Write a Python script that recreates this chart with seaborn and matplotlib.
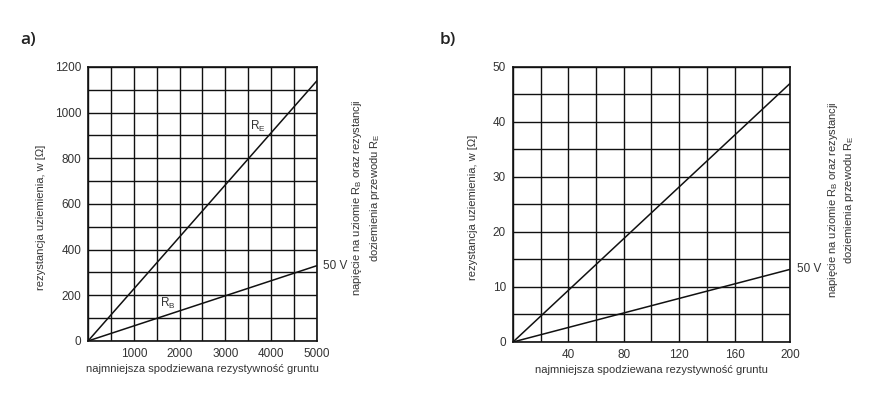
import numpy as np
import pandas as pd
import matplotlib
matplotlib.use("Agg")
import matplotlib.pyplot as plt
import seaborn as sns

# values
rho_a = [0, 5000]
re_a = [0, 1140]
rb_a = [0, 330]

rho_b = [0, 200]
re_b = [0, 47]
rb_b = [0, 13.2]

xticks_a = [1000, 2000, 3000, 4000, 5000]
yticks_a = [0, 200, 400, 600, 800, 1000, 1200]
xticks_b = [40, 80, 120, 160, 200]
yticks_b = [0, 10, 20, 30, 40, 50]

ylabel = "rezystancja uziemienia, w [Ω]"
xlabel = "najmniejsza spodziewana rezystywność gruntu"
rlabel = ("napięcie na uziomie R$_\\mathregular{B}$ oraz rezystancji\n"
          "doziemienia przewodu R$_\\mathregular{E}$")

sns.set_theme(style="white")
plt.rcParams['font.family'] = ['Liberation Sans', 'DejaVu Sans']
plt.rcParams['mathtext.default'] = 'regular'
text_col = "#333333"

W, H = 881, 399
fig = plt.figure(figsize=(W / 100, H / 100), dpi=100)
ax_a = fig.add_axes([0.0999, 0.1454, 0.2599, 0.6867])
ax_b = fig.add_axes([0.5823, 0.1429, 0.3144, 0.6892])


def draw_panel(ax, rho, re, rb, xmax, ymax, xstep, ystep, xticks, yticks):
    df = pd.DataFrame({"rho": rho, "RE": re, "RB": rb})
    sns.lineplot(data=df, x="rho", y="RE", ax=ax, color="#111111", lw=1.1)
    sns.lineplot(data=df, x="rho", y="RB", ax=ax, color="#111111", lw=1.1)
    ax.set_xlim(0, xmax)
    ax.set_ylim(0, ymax)
    ax.set_xticks(np.arange(0, xmax + xstep / 2, xstep), minor=True)
    ax.set_yticks(np.arange(0, ymax + ystep / 2, ystep), minor=True)
    ax.set_xticks(xticks)
    ax.set_yticks(yticks)
    ax.grid(True, which="both", color="#111111", lw=1.0)
    ax.tick_params(which="both", length=0, labelsize=8.5, labelcolor=text_col, pad=5)
    for s in ax.spines.values():
        s.set_color("#111111")
        s.set_linewidth(1.2)
    ax.set_xlabel(xlabel, fontsize=8, color=text_col, labelpad=3)
    ax.set_ylabel(ylabel, fontsize=8, color=text_col)


draw_panel(ax_a, rho_a, re_a, rb_a, 5000, 1200, 500, 100, xticks_a, yticks_a)
draw_panel(ax_b, rho_b, re_b, rb_b, 200, 50, 20, 5, xticks_b, yticks_b)
ax_a.yaxis.set_label_coords(-0.183, 0.45)
ax_b.yaxis.set_label_coords(-0.126, 0.49)

# "50 V" at the end of the R_B line
ax_a.annotate("50 V", (rho_a[-1], rb_a[-1]), xytext=(4, 0), textcoords="offset points",
              ha="left", va="center", fontsize=8.5, color=text_col)
ax_b.annotate("50 V", (rho_b[-1], rb_b[-1]), xytext=(5, 0), textcoords="offset points",
              ha="left", va="center", fontsize=8.5, color=text_col)

# right-hand rotated labels
for xc, yc in [(366, 198), (841, 200)]:
    fig.text(xc / W, 1 - yc / H, rlabel, rotation=90, ha="center", va="center",
             fontsize=8, color=text_col, multialignment="center", linespacing=1.3)

ax_a.text(3700, 940, "R$_\\mathregular{E}$", ha="center", va="center",
          fontsize=8.5, color=text_col)
ax_a.text(1750, 165, "R$_\\mathregular{B}$", ha="center", va="center",
          fontsize=8.5, color=text_col)

fig.text(20 / W, 1 - 40 / H, "a)", fontsize=12.5, fontweight="semibold",
         color="#222222", family=["Open Sans", "DejaVu Sans"], va="center")
fig.text(440 / W, 1 - 40 / H, "b)", fontsize=12.5, fontweight="semibold",
         color="#222222", family=["Open Sans", "DejaVu Sans"], va="center")

fig.savefig("out.png", dpi=100, facecolor="white")
